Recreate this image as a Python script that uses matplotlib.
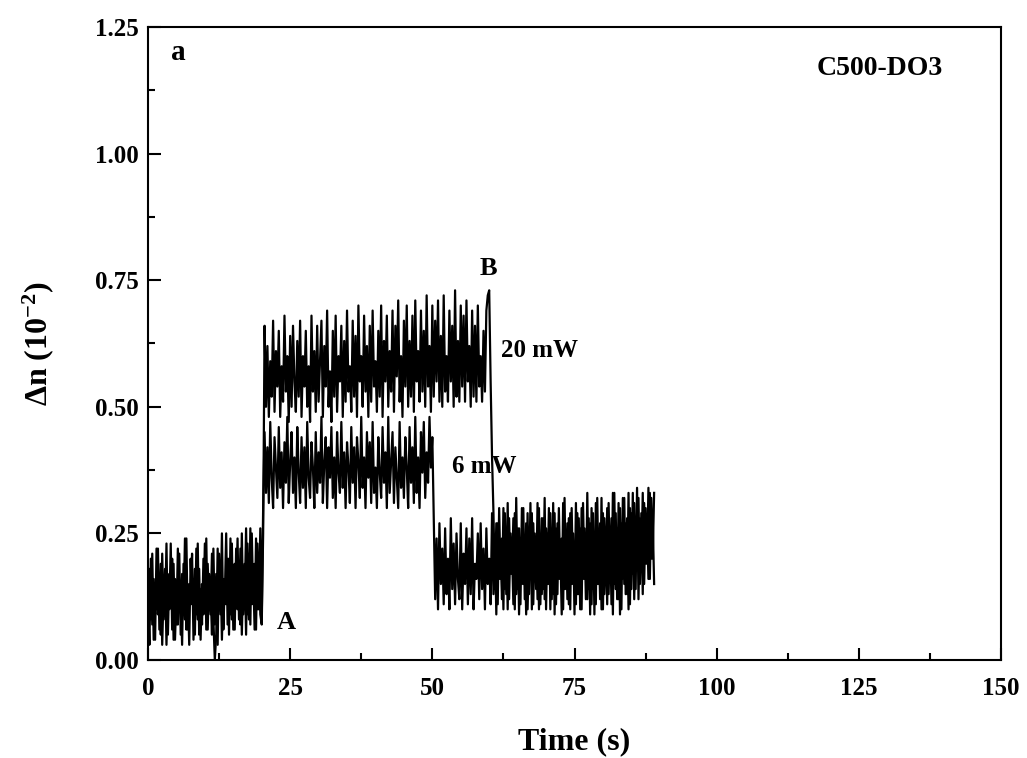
import matplotlib
matplotlib.use("Agg")
import matplotlib.pyplot as plt
import numpy as np
from matplotlib.ticker import MultipleLocator, FormatStrFormatter

plt.rcParams['font.family'] = ['Liberation Serif', 'DejaVu Serif']
plt.rcParams['font.weight'] = 'bold'
plt.rcParams['mathtext.fontset'] = 'custom'
plt.rcParams['mathtext.rm'] = 'Liberation Serif:bold'
plt.rcParams['mathtext.it'] = 'Liberation Serif:bold'
plt.rcParams['mathtext.bf'] = 'Liberation Serif:bold'
plt.rcParams['mathtext.default'] = 'regular'

# sampling step of the recorded traces (s)
dt = 0.25

# values in units of 1e-4 (i.e. hundredths of 1e-2)
# 6 mW trace
base_6mw = [5, 18, 8, 21, 4, 15, 10, 22, 6, 19, 3, 14, 9, 23, 5, 17, 11, 20, 4, 16,
            7, 22, 10, 13, 3, 19, 8, 24, 6, 15, 12, 21, 4, 18, 9, 23, 5, 14, 7, 20,
            11, 24, 6, 17, 9, 21, 8, 0, 5, 22, 10, 18, 4, 16, 12, 25, 7, 20, 9, 23,
            6, 19, 13, 24, 8, 22, 5, 17, 11, 26, 9, 21, 7, 25, 12, 19, 6, 23, 10, 26,
            8, 30]
on_6mw = [45, 33, 42, 31, 47, 36, 30, 44, 38, 32, 46, 34, 41, 30, 43, 35, 48, 31, 39, 45,
          33, 40, 30, 46, 37, 31, 44, 34, 42, 30, 47, 36, 32, 43, 38, 30, 45, 33, 41, 35,
          48, 31, 39, 44, 30, 42, 36, 46, 32, 40, 30, 45, 37, 33, 47, 34, 41, 30, 43, 38,
          31, 46, 35, 42, 30, 44, 39, 32, 48, 34, 40, 30, 45, 36, 43, 31, 47, 33, 38, 30,
          44, 37, 32, 46, 35, 41, 30, 48, 33, 39, 45, 31, 42, 36, 30, 47, 34, 40, 32, 44,
          38, 30, 46, 35, 42, 31, 48, 33, 40, 30, 45, 37, 47, 32, 41, 35, 48, 38, 44]
off_6mw = [28, 12, 24, 10, 27, 15, 22, 11, 26, 13, 20, 10, 28, 14, 23, 11, 25, 16, 12, 27,
           10, 21, 15, 26, 11, 24, 13, 28, 10, 19, 16, 25, 12, 27, 14, 22, 10, 26, 15, 20,
           11, 29, 13, 24, 9, 27, 16, 21, 12, 30, 14, 25, 10, 28, 17, 22, 11, 29, 13, 26,
           9, 24, 15, 30, 12, 27, 10, 22, 16, 29, 11, 25, 14, 31, 10, 23, 13, 28, 12, 26,
           15, 30, 10, 24, 13, 29, 11, 27, 16, 22, 9, 31, 14, 25, 12, 28, 10, 30, 15, 23,
           11, 29, 13, 26, 10, 31, 16, 24, 12, 28, 9, 30, 14, 25, 11, 32, 15, 27, 10, 29,
           13, 24, 11, 31, 16, 28, 9, 33, 14, 26, 12, 30, 10, 32, 15, 27, 13, 33, 11, 29,
           17, 31, 14, 34, 12, 28, 18, 33, 15, 30, 19, 34, 16, 32, 20, 33]

# 20 mW trace
base_20mw = [12, 3, 20, 7, 16, 4, 22, 9, 14, 5, 21, 8, 18, 3, 15, 10, 23, 6, 19, 4,
             13, 7, 21, 5, 17, 9, 24, 6, 14, 3, 20, 11, 16, 5, 22, 8, 18, 4, 15, 9,
             23, 6, 19, 10, 14, 5, 22, 7, 17, 3, 21, 9, 25, 6, 15, 11, 20, 5, 24, 8,
             18, 6, 22, 10, 16, 7, 25, 9, 19, 5, 23, 8, 26, 11, 17, 6, 24, 10, 21, 9,
             7, 25]
on_20mw = [66, 50, 62, 48, 59, 52, 67, 49, 61, 54, 65, 48, 58, 51, 68, 53, 60, 47, 64, 50,
           66, 55, 49, 63, 52, 67, 48, 60, 54, 65, 50, 58, 47, 68, 53, 61, 49, 66, 51, 59,
           67, 48, 62, 54, 69, 50, 57, 47, 65, 52, 68, 49, 60, 55, 66, 48, 63, 51, 69, 53,
           58, 49, 67, 52, 64, 48, 70, 55, 60, 50, 68, 53, 62, 48, 66, 51, 69, 54, 59, 49,
           65, 52, 70, 48, 63, 55, 68, 50, 61, 53, 69, 49, 66, 56, 71, 51, 60, 48, 67, 54,
           70, 50, 63, 52, 68, 49, 71, 55, 61, 51, 69, 53, 65, 50, 72, 54, 62, 49, 70, 52,
           67, 55, 71, 51, 64, 50, 72, 53, 60, 51, 69, 55, 66, 50, 73, 52, 63, 51, 70, 54,
           68, 51, 71, 55, 62, 50, 69, 52, 66, 51, 70, 54, 60, 51, 65, 53, 69, 72, 73]
off_20mw = [55, 40, 29,
            14, 27, 11, 30, 16, 24, 10, 29, 13, 31, 12, 25, 17, 28, 10, 32, 14, 26, 11, 30,
            15, 23, 9, 29, 13, 31, 10, 27, 16, 24, 12, 30, 11, 28, 14, 32, 10, 25, 15, 29,
            12, 31, 9, 26, 13, 30, 16, 24, 10, 32, 14, 27, 11, 29, 15, 25, 9, 31, 13, 28,
            10, 30, 16, 26, 12, 33, 14, 27, 11, 29, 9, 31, 15, 24, 12, 32, 10, 28, 17, 30,
            13, 26, 11, 33, 15, 29, 12, 31, 9, 27, 16, 32, 13, 28, 10, 30, 14, 33, 12, 26,
            18, 32, 15, 29, 13, 31, 19, 27, 16, 33, 20, 28, 15]

# segment start times (s)
t_on = 20.5
t_off_6mw = 50.25
t_off_20mw = 60.25


def build(base, on, off, t_off):
    t = np.concatenate([np.arange(len(base)) * dt,
                        t_on + np.arange(len(on)) * dt,
                        t_off + np.arange(len(off)) * dt])
    y = np.array(base + on + off) / 100.0
    return t, y


t6, y6 = build(base_6mw, on_6mw, off_6mw, t_off_6mw)
t20, y20 = build(base_20mw, on_20mw, off_20mw, t_off_20mw)

fig = plt.figure(figsize=(10.27, 7.58), dpi=100)
ax = fig.add_axes([0.1441, 0.1293, 0.8306, 0.8351])

ax.plot(t20, y20, color='black', lw=1.6)
ax.plot(t6, y6, color='black', lw=1.6)

ax.set_xlim(0, 150)
ax.set_ylim(0, 1.25)
ax.xaxis.set_major_locator(MultipleLocator(25))
ax.xaxis.set_minor_locator(MultipleLocator(12.5))
ax.yaxis.set_major_locator(MultipleLocator(0.25))
ax.yaxis.set_minor_locator(MultipleLocator(0.125))
ax.yaxis.set_major_formatter(FormatStrFormatter('%.2f'))
ax.tick_params(which='both', direction='in', top=False, right=False, width=1.5)
ax.tick_params(which='major', length=9, labelsize=18)
ax.tick_params(which='minor', length=5)
ax.tick_params(axis='x', pad=12)
ax.tick_params(axis='y', pad=7)
for s in ax.spines.values():
    s.set_linewidth(1.5)
for lab in ax.get_xticklabels() + ax.get_yticklabels():
    lab.set_fontweight('bold')

ax.set_xlabel('Time (s)', fontsize=23, fontweight='bold', labelpad=20)
ax.set_ylabel('Δn (10$^{-2}$)', fontsize=23, fontweight='bold', labelpad=28)

ax.text(0.035, 0.96, 'a', transform=ax.transAxes, fontsize=21, fontweight='bold',
        ha='center', va='center')
ax.text(0.858, 0.935, 'C500-DO3', transform=ax.transAxes, fontsize=20, fontweight='bold',
        ha='center', va='center')
ax.text(24.3, 0.075, 'A', fontsize=19, fontweight='bold', ha='center', va='center')
ax.text(59.8, 0.774, 'B', fontsize=19, fontweight='bold', ha='center', va='center')
ax.text(68.9, 0.612, '20 mW', fontsize=18, fontweight='bold', ha='center', va='center')
ax.text(59.1, 0.383, '6 mW', fontsize=18, fontweight='bold', ha='center', va='center')

fig.savefig('out.png', dpi=100)
